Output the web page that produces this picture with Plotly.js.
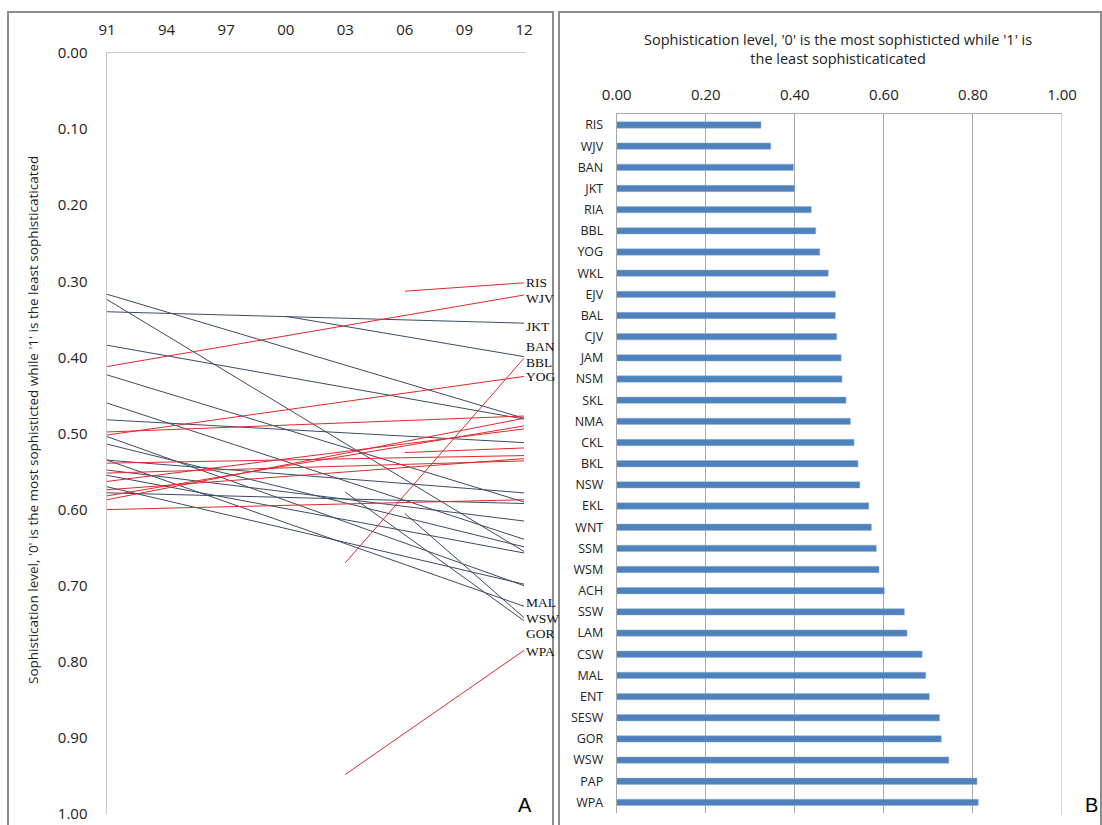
<!DOCTYPE html>
<html>
<head>
<meta charset="utf-8">
<script src="https://cdn.plot.ly/plotly-3.0.1.min.js"></script>
<style>html,body{margin:0;padding:0;background:#fff;}#chart{width:1102px;height:825px;}</style>
</head>
<body>
<div id="chart"></div>
<script>
// ---------- Panel A: change in sophistication level (slope lines) ----------
const yearTicks = [1991, 1994, 1997, 2000, 2003, 2006, 2009, 2012];
const yearTickText = ['91', '94', '97', '00', '03', '06', '09', '12'];
const endYear = 2012;
const lineStartYear = [1991, 1991, 1991, 1991, 1991, 1991, 1991, 1991, 1991, 1991,
                       1991, 1991, 1991, 1991, 1991, 1991, 1991, 1991, 1991, 1991,
                       1991, 1991, 1991, 1991, 1991,
                       2006, 2000, 2003, 2006, 2003, 2006, 2003];
const lineStartLevel = [0.317, 0.324, 0.340, 0.384, 0.412, 0.423, 0.460, 0.482, 0.498, 0.502,
                        0.504, 0.514, 0.535, 0.535, 0.539, 0.548, 0.552, 0.555, 0.563, 0.570,
                        0.578, 0.582, 0.587, 0.600, 0.574,
                        0.313, 0.346, 0.670, 0.525, 0.577, 0.605, 0.948];
const lineEndLevel = [0.480, 0.655, 0.355, 0.481, 0.318, 0.590, 0.639, 0.512, 0.477, 0.425,
                      0.700, 0.649, 0.727, 0.578, 0.529, 0.615, 0.536, 0.657, 0.494, 0.698,
                      0.592, 0.490, 0.480, 0.587, 0.533,
                      0.302, 0.399, 0.401, 0.519, 0.746, 0.742, 0.785];
const endLabels = ['RIS', 'WJV', 'JKT', 'BAN', 'BBL', 'YOG', 'MAL', 'WSW', 'GOR', 'WPA'];
const endLabelLevels = [0.302, 0.322, 0.360, 0.386, 0.407, 0.425, 0.722, 0.743, 0.763, 0.787];

// ---------- Panel B: 2012 sophistication level ----------
const regions = ['RIS', 'WJV', 'BAN', 'JKT', 'RIA', 'BBL', 'YOG', 'WKL', 'EJV', 'BAL', 'CJV',
                 'JAM', 'NSM', 'SKL', 'NMA', 'CKL', 'BKL', 'NSW', 'EKL', 'WNT', 'SSM', 'WSM',
                 'ACH', 'SSW', 'LAM', 'CSW', 'MAL', 'ENT', 'SESW', 'GOR', 'WSW', 'PAP', 'WPA'];
const levels2012 = [0.324, 0.346, 0.397, 0.400, 0.437, 0.447, 0.456, 0.475, 0.491, 0.491, 0.494,
                    0.504, 0.506, 0.515, 0.525, 0.533, 0.542, 0.546, 0.566, 0.572, 0.583, 0.589,
                    0.601, 0.646, 0.652, 0.686, 0.694, 0.702, 0.725, 0.729, 0.746, 0.809, 0.812];

const axisTitleText = "Sophistication level, '0' is the most sophisticted while '1' is the least sophisticaticated";
const panelBTitle = "Sophistication level, '0' is the most sophisticted while '1' is<br>the least sophisticaticated";

// ---------- build ----------
const W = 1102, H = 825;
const px = v => v / W;
const py = v => 1 - v / H;

const redX = [], redY = [], blueX = [], blueY = [];
for (let i = 0; i < lineStartYear.length; i++) {
  const improved = lineEndLevel[i] < lineStartLevel[i];
  const xs = improved ? redX : blueX, ys = improved ? redY : blueY;
  xs.push(lineStartYear[i], endYear, null);
  ys.push(lineStartLevel[i], lineEndLevel[i], null);
}

const sansFont = '"Open Sans", "Noto Sans", sans-serif';
const serifFont = '"Liberation Serif", "DejaVu Serif", serif';

const traces = [
  {type: 'scatter', mode: 'lines', x: blueX, y: blueY, xaxis: 'x', yaxis: 'y',
   line: {color: '#3b4a66', width: 1}, hoverinfo: 'skip', showlegend: false, connectgaps: false},
  {type: 'scatter', mode: 'lines', x: redX, y: redY, xaxis: 'x', yaxis: 'y',
   line: {color: '#e0282c', width: 1}, hoverinfo: 'skip', showlegend: false, connectgaps: false},
  {type: 'bar', orientation: 'h', x: levels2012, y: regions, xaxis: 'x2', yaxis: 'y2',
   marker: {color: '#4f81bd', line: {color: '#8fb0d8', width: 0.5}}, showlegend: false, hoverinfo: 'x+y'}
];

const annotations = endLabels.map((t, i) => ({
  x: endYear, y: endLabelLevels[i], xref: 'x', yref: 'y', text: t, showarrow: false,
  xanchor: 'left', yanchor: 'middle', xshift: 0,
  font: {family: serifFont, size: 13.5, color: '#111'}
}));
annotations.push(
  {x: px(33), y: py(420), xref: 'paper', yref: 'paper', text: axisTitleText, textangle: -90,
   showarrow: false, xanchor: 'center', yanchor: 'middle', font: {family: sansFont, size: 13.5, color: '#222'}},
  {x: px(838), y: py(49), xref: 'paper', yref: 'paper', text: panelBTitle, showarrow: false,
   xanchor: 'center', yanchor: 'middle', font: {family: sansFont, size: 14.5, color: '#222'}},
  {x: px(525), y: py(805), xref: 'paper', yref: 'paper', text: 'A', showarrow: false,
   xanchor: 'center', yanchor: 'middle', font: {family: '"Liberation Sans", Arial, sans-serif', size: 20, color: '#000'}},
  {x: px(1091), y: py(805), xref: 'paper', yref: 'paper', text: 'B', showarrow: false,
   xanchor: 'center', yanchor: 'middle', font: {family: '"Liberation Sans", Arial, sans-serif', size: 20, color: '#000'}}
);

const layout = {
  width: W, height: H,
  margin: {l: 0, r: 0, t: 0, b: 0},
  paper_bgcolor: '#fff', plot_bgcolor: 'rgba(0,0,0,0)',
  showlegend: false,
  xaxis: {
    domain: [px(107), px(526)], range: [1991, 2012.1], side: 'top', anchor: 'y',
    tickmode: 'array', tickvals: yearTicks, ticktext: yearTickText,
    showgrid: false, zeroline: false, showline: true, linecolor: '#c8c8c8', linewidth: 1.5,
    ticks: 'outside', ticklen: 11, tickcolor: 'rgba(0,0,0,0)',
    tickfont: {family: sansFont, size: 15, color: '#222'}
  },
  yaxis: {
    domain: [py(814), py(53)], range: [1, 0], anchor: 'x',
    tickmode: 'array', tickvals: [0, 0.1, 0.2, 0.3, 0.4, 0.5, 0.6, 0.7, 0.8, 0.9, 1.0], tickformat: '.2f',
    showgrid: false, zeroline: false, showline: true, linecolor: '#c8c8c8', linewidth: 1.5,
    ticks: 'outside', ticklen: 15, tickcolor: 'rgba(0,0,0,0)',
    tickfont: {family: sansFont, size: 15, color: '#222'}
  },
  xaxis2: {
    domain: [px(616.7), px(1062)], range: [0, 1], side: 'top', anchor: 'y2',
    tickmode: 'array', tickvals: [0, 0.2, 0.4, 0.6, 0.8, 1.0], tickformat: '.2f',
    showgrid: true, gridcolor: '#a8a8a8', gridwidth: 1, zeroline: false,
    showline: true, linecolor: '#a8a8a8', linewidth: 1, mirror: false,
    ticks: 'outside', ticklen: 7, tickcolor: 'rgba(0,0,0,0)',
    tickfont: {family: sansFont, size: 15, color: '#222'}
  },
  yaxis2: {
    domain: [py(813), py(114.4)], anchor: 'x2', type: 'category', autorange: 'reversed',
    showgrid: false, zeroline: false, showline: true, linecolor: '#a8a8a8', linewidth: 1,
    ticks: 'outside', ticklen: 10, tickcolor: 'rgba(0,0,0,0)',
    tickfont: {family: sansFont, size: 12.5, color: '#222'}
  },
  bargap: 0.7,
  annotations: annotations,
  shapes: [
    {type: 'rect', xref: 'paper', yref: 'paper', x0: px(8), x1: px(553), y0: py(830), y1: py(12),
     line: {color: '#8c8c8c', width: 2}, fillcolor: 'rgba(0,0,0,0)'},
    {type: 'rect', xref: 'paper', yref: 'paper', x0: px(559), x1: px(1101), y0: py(830), y1: py(12),
     line: {color: '#8c8c8c', width: 2}, fillcolor: 'rgba(0,0,0,0)'},
    {type: 'line', xref: 'x2', yref: 'paper', x0: 1, x1: 1, y0: py(815), y1: py(114.4),
     line: {color: '#a8a8a8', width: 1}}
  ]
};

Plotly.newPlot('chart', traces, layout, {displayModeBar: false, staticPlot: true});
</script>
</body>
</html>
